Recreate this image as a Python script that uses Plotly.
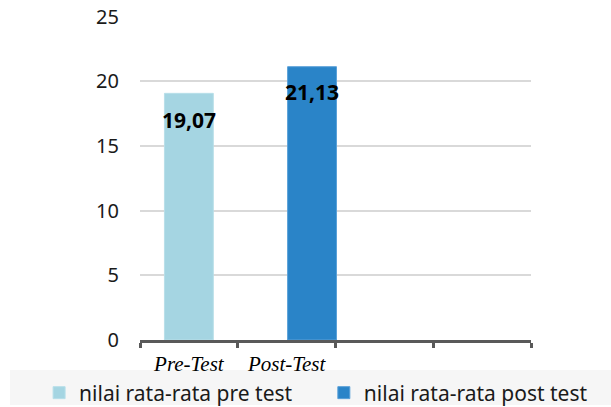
import plotly.graph_objects as go

categories = ["Pre-Test", "Post-Test", " ", "  "]
series_names = ["nilai rata-rata pre test", "nilai rata-rata post test"]
pre_values = [19.07]
post_values = [21.13]
pre_labels = ["19,07"]
post_labels = ["21,13"]
y_ticks = [0, 5, 10, 15, 20, 25]

light = "#a5d5e2"
dark = "#2a84c8"

fig = go.Figure()
fig.add_trace(go.Bar(
    x=[categories[0]], y=pre_values, name=series_names[0],
    marker=dict(color=light, line=dict(color="#b8dfe9", width=1)),
    width=0.5, offset=-0.25, legend="legend",
))
fig.add_trace(go.Bar(
    x=[categories[1]], y=post_values, name=series_names[1],
    marker=dict(color=dark, line=dict(color="#5aa0d8", width=1)),
    width=0.5, offset=0.01, legend="legend2",
))

label_font = dict(family="Noto Sans", size=21, color="#000000")
fig.add_annotation(x=0, y=pre_values[0], text="<b>" + pre_labels[0] + "</b>",
                   showarrow=False, yanchor="middle", yshift=-27, font=label_font)
fig.add_annotation(x=1 + 0.01 + 0.25, y=post_values[0], text="<b>" + post_labels[0] + "</b>",
                   showarrow=False, yanchor="middle", yshift=-25, font=label_font)

# light grey legend band
fig.add_shape(type="rect", xref="paper", yref="paper",
              x0=-0.3325, x1=1.21, y0=-0.0926, y1=-0.2006,
              fillcolor="#f6f6f6", line=dict(width=0), layer="below")

legend_font = dict(family="Noto Sans", size=21, color="#1a1a1a")
common_leg = dict(orientation="h", xref="container", yref="container",
                  xanchor="left", yanchor="middle", bgcolor="rgba(0,0,0,0)",
                  font=legend_font)

fig.update_layout(
    width=611, height=407,
    margin=dict(l=140, r=80, t=16, b=67, autoexpand=False),
    paper_bgcolor="white", plot_bgcolor="white",
    barmode="overlay",
    showlegend=True,
    legend=dict(x=0.064, y=0.0344, **common_leg),
    legend2=dict(x=0.530, y=0.0344, **common_leg),
    xaxis=dict(type="category", categoryorder="array", categoryarray=categories,
               range=[-0.5, 3.5], tickson="boundaries", ticks="outside",
               ticklen=5, tickwidth=3, tickcolor="#595959",
               showline=True, linecolor="#595959", linewidth=3,
               showgrid=False, ticklabelstandoff=3,
               tickfont=dict(family="Liberation Serif", size=21, color="#000000", style="italic")),
    yaxis=dict(range=[0, 25.05], tickvals=y_ticks, showgrid=True, gridcolor="#d9d9d9",
               gridwidth=1.5, zeroline=False, showline=False, ticks="",
               ticklabelstandoff=20,
               tickfont=dict(family="Noto Sans", size=20, color="#1a1a1a")),
)

fig.write_html("out.html", config={"displayModeBar": False},
               post_script="document.body.style.margin='0px';")
